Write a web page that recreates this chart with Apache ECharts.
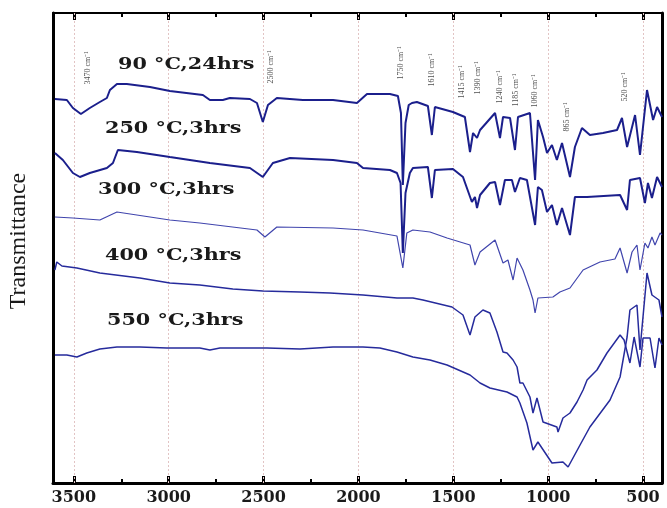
<!DOCTYPE html>
<html>
<head>
<meta charset="utf-8">
<script src="https://cdn.jsdelivr.net/npm/echarts@6/dist/echarts.min.js"></script>
<style>
  html, body { margin: 0; padding: 0; background: #fff; }
  #chart { width: 667px; height: 508px; }
</style>
</head>
<body>
<div id="chart"></div>
<script>
  // FTIR spectra, wavenumber (cm-1) vs transmittance (arbitrary, offset per sample)
  const seriesNames = ['90 °C,24hrs', '250 °C,3hrs', '300 °C,3hrs', '400 °C,3hrs', '550 °C,3hrs'];
  const majorTicks = [3500, 3000, 2500, 2000, 1500, 1000, 500];
  const minorTicks = [3250, 2750, 2250, 1750, 1250, 750];
  const peakLabels = ['3470', '2500', '1750', '1610', '1415', '1390', '1240', '1185', '1060', '865', '520'];
  const peakAnchors = [[3426, 415], [2461, 416], [1776, 420], [1613, 413], [1454, 401], [1370, 405],
    [1254, 396], [1170, 393], [1069, 392], [901, 366], [595, 396]];

  const s90 = [[3600, 384], [3537, 383], [3505, 375], [3463, 369], [3416, 375], [3363, 381], [3326, 385],
    [3310, 393], [3273, 399], [3221, 399], [3099, 396], [2994, 392], [2820, 388], [2783, 383], [2715, 383],
    [2678, 385], [2572, 384], [2535, 380], [2504, 361], [2477, 378], [2430, 385], [2293, 383], [2134, 383],
    [2008, 380], [1955, 389], [1834, 389], [1792, 387], [1776, 370], [1766, 298], [1752, 360], [1735, 378],
    [1718, 380], [1692, 381], [1634, 377], [1613, 348], [1597, 376], [1502, 371], [1439, 366], [1412, 331],
    [1396, 350], [1375, 345], [1359, 353], [1280, 370], [1254, 345], [1238, 366], [1201, 365], [1175, 333],
    [1159, 366], [1096, 370], [1069, 303], [1054, 363], [1027, 346], [1006, 330], [980, 338], [954, 323],
    [927, 340], [885, 306], [859, 336], [822, 355], [780, 348], [711, 350], [637, 353], [611, 365],
    [584, 336], [542, 368], [516, 328], [479, 393], [447, 363], [426, 376], [400, 366]];

  const s250 = [[3600, 330], [3558, 323], [3505, 310], [3468, 306], [3416, 310], [3326, 315], [3294, 320],
    [3268, 333], [3168, 331], [2994, 326], [2783, 320], [2572, 315], [2504, 306], [2451, 320], [2361, 325],
    [2134, 323], [2008, 320], [1976, 315], [1834, 313], [1797, 310], [1778, 300], [1766, 230], [1752, 290],
    [1729, 310], [1713, 315], [1634, 316], [1613, 285], [1597, 313], [1502, 314], [1449, 306], [1402, 281],
    [1386, 286], [1375, 275], [1359, 288], [1307, 300], [1280, 301], [1254, 278], [1228, 303], [1191, 303],
    [1175, 291], [1149, 305], [1112, 303], [1069, 258], [1054, 296], [1033, 293], [1006, 271], [980, 278],
    [954, 258], [927, 275], [885, 248], [859, 286], [795, 286], [621, 288], [584, 273], [569, 303],
    [516, 305], [490, 280], [474, 300], [453, 285], [426, 306], [400, 296]];

  const s300 = [[3600, 266], [3505, 265], [3363, 263], [3273, 271], [2994, 263], [2836, 260], [2535, 253],
    [2493, 246], [2430, 256], [2134, 255], [1976, 253], [1797, 247], [1766, 215], [1745, 250], [1713, 253],
    [1623, 251], [1533, 245], [1412, 238], [1386, 218], [1359, 231], [1280, 243], [1238, 220], [1212, 223],
    [1185, 203], [1164, 225], [1133, 213], [1096, 193], [1080, 183], [1069, 170], [1054, 185], [975, 186],
    [938, 191], [885, 195], [816, 213], [727, 221], [648, 224], [621, 235], [584, 210], [558, 231],
    [532, 238], [516, 213], [490, 240], [474, 235], [453, 246], [437, 238], [410, 250], [400, 248]];

  const s400 = [[3600, 213], [3590, 221], [3563, 217], [3484, 215], [3363, 210], [3152, 205], [2994, 200],
    [2836, 198], [2662, 194], [2504, 192], [2308, 191], [2150, 190], [1976, 188], [1797, 185], [1713, 185],
    [1660, 183], [1507, 176], [1449, 168], [1412, 148], [1386, 166], [1344, 173], [1307, 170], [1270, 151],
    [1238, 131], [1217, 130], [1185, 123], [1164, 116], [1149, 100], [1133, 100], [1096, 86], [1080, 70],
    [1059, 85], [1027, 61], [954, 56], [948, 51], [922, 65], [885, 70], [848, 81], [816, 93], [795, 103],
    [743, 113], [690, 130], [621, 148], [600, 143], [569, 120], [547, 146], [516, 116], [500, 145],
    [463, 145], [437, 115], [416, 145], [400, 138]];

  const s550 = [[3600, 128], [3537, 128], [3484, 126], [3432, 130], [3363, 134], [3273, 136], [3152, 136],
    [3010, 135], [2836, 135], [2783, 133], [2730, 135], [2482, 135], [2308, 134], [2134, 136], [1976, 136],
    [1887, 135], [1797, 131], [1713, 126], [1623, 123], [1533, 118], [1412, 108], [1359, 100], [1307, 95],
    [1217, 91], [1164, 86], [1149, 80], [1112, 60], [1080, 33], [1054, 41], [980, 20], [922, 21], [895, 16],
    [832, 38], [780, 56], [674, 83], [621, 106], [584, 146], [569, 173], [532, 178], [516, 133], [479, 210],
    [453, 188], [416, 183], [400, 166]];

  const spectra = [s90, s250, s300, s400, s550];
  const lineColors = ['#1b1f8c', '#1b1f8c', '#4045ad', '#262b9c', '#262b9c'];
  const lineWidths = [2, 2, 1.2, 1.5, 1.5];

  const chart = echarts.init(document.getElementById('chart'));

  const xBase = (position, ticks, tickLen, tickWidth, lineWidth, showLabel) => ({
    type: 'value',
    position: position,
    min: 400,
    max: 3610,
    inverse: true,
    axisLine: {
      show: true,
      onZero: false,
      lineStyle: { color: lineWidth > 0 ? '#000' : 'rgba(0,0,0,0)', width: Math.max(lineWidth, 1) },
    },
    axisTick: {
      show: true,
      inside: true,
      length: tickLen,
      customValues: ticks,
      lineStyle: { color: '#000', width: tickWidth },
    },
    axisLabel: {
      show: showLabel,
      customValues: ticks,
      margin: 7,
      color: '#1a1a1a',
      fontFamily: 'DejaVu Serif',
      fontWeight: 'bold',
      fontSize: 16,
      formatter: (v) => String(v),
    },
    splitLine: { show: false },
  });

  const labelBoxes = [[118, 65], [105, 129], [98, 190], [105, 256], [107, 321]];

  const option = {
    animation: false,
    backgroundColor: '#fff',
    grid: { left: 53, right: 5, top: 13, bottom: 25, outerBoundsMode: 'none' },
    xAxis: [
      xBase('bottom', majorTicks, 7, 3, 3, true),
      xBase('bottom', minorTicks, 4, 2, 0, false),
      xBase('top', majorTicks, 7, 3, 2, false),
      xBase('top', minorTicks, 4, 2, 0, false),
    ],
    yAxis: [
      {
        type: 'value',
        min: 0,
        max: 470,
        position: 'left',
        name: 'Transmittance',
        nameLocation: 'middle',
        nameGap: 22,
        nameTextStyle: {
          fontFamily: 'Liberation Serif',
          fontSize: 24,
          color: '#1a1a1a',
          padding: [0, 0, 0, 14],
        },
        axisLine: { show: true, onZero: false, lineStyle: { color: '#000', width: 3 } },
        axisTick: { show: false },
        axisLabel: { show: false },
        splitLine: { show: false },
      },
      {
        type: 'value',
        min: 0,
        max: 470,
        position: 'right',
        axisLine: { show: true, onZero: false, lineStyle: { color: '#000', width: 3 } },
        axisTick: { show: false },
        axisLabel: { show: false },
        splitLine: { show: false },
      },
    ],
    graphic: seriesNames.map((name, i) => ({
      type: 'text',
      x: labelBoxes[i][0],
      y: labelBoxes[i][1],
      scaleX: 1.22,
      style: {
        text: name,
        fill: '#1a1a1a',
        font: 'bold 17px "DejaVu Serif"',
        textAlign: 'left',
        textVerticalAlign: 'middle',
      },
      z: 10,
    })),
    series: spectra.map((data, i) => ({
      name: seriesNames[i],
      type: 'line',
      data: data,
      symbol: 'none',
      showSymbol: false,
      lineStyle: { color: lineColors[i], width: lineWidths[i] },
      z: 3,
      markLine: i === 0 ? {
        silent: true,
        symbol: ['none', 'none'],
        label: { show: false },
        lineStyle: { color: '#e2c4c4', width: 1, type: [2, 2] },
        data: majorTicks.map((v) => ({ xAxis: v })),
        z: 1,
      } : undefined,
    })).concat([
      {
        type: 'scatter',
        data: peakAnchors,
        symbolSize: 0,
        z: 5,
        label: {
          show: true,
          position: 'inside',
          rotate: 90,
          color: '#1a1a1a',
          fontFamily: 'Liberation Serif',
          fontSize: 8,
          formatter: (p) => peakLabels[p.dataIndex] + ' cm\u207B\u00B9',
        },
      },
    ]),
  };

  chart.setOption(option);
</script>
</body>
</html>
